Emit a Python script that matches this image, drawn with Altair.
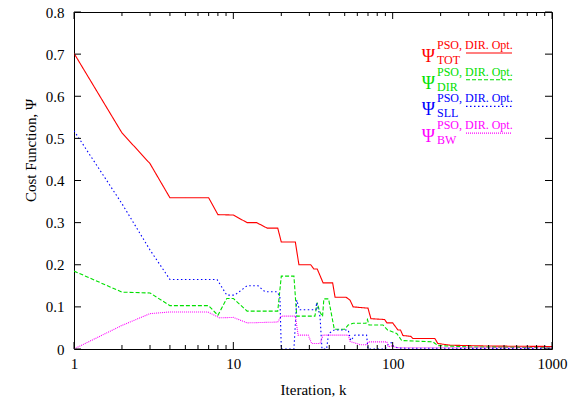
import altair as alt
import pandas as pd

# ---------------- data ----------------
tot_k = [1, 2, 3, 4, 7, 8, 10, 12.2, 14, 16.3, 19, 20, 24.5, 25.8, 30.6, 32, 33.6, 36.6, 42, 43.5,
         51, 54, 56.5, 70, 73, 89, 92, 100, 108, 112, 116, 130, 134, 184, 192, 230, 400, 1000]
tot_v = [0.702, 0.513, 0.44, 0.359, 0.359, 0.319, 0.318, 0.30, 0.30, 0.287, 0.287, 0.254, 0.254, 0.20,
         0.20, 0.19, 0.19, 0.157, 0.157, 0.123, 0.123, 0.116, 0.10, 0.097, 0.072, 0.07, 0.062, 0.062,
         0.045, 0.045, 0.032, 0.03, 0.025, 0.025, 0.013, 0.009, 0.007, 0.006]

dir_k = [1, 2, 3, 4, 7, 8, 9.1, 10, 12.2, 19, 20, 24, 25, 32.5, 33.6, 34.8, 36.3, 37, 39.6, 43,
         50, 52.6, 56.5, 68, 69.5, 71, 87, 93, 106, 114, 179, 192, 300, 1000]
dir_v = [0.185, 0.135, 0.133, 0.103, 0.103, 0.08, 0.12, 0.12, 0.09, 0.09, 0.173, 0.173, 0.078, 0.078,
         0.11, 0.089, 0.077, 0.119, 0.119, 0.047, 0.047, 0.057, 0.061, 0.061, 0.07, 0.057, 0.057,
         0.045, 0.037, 0.02, 0.017, 0.008, 0.005, 0.003]

sll_k = [1, 2, 3, 4, 7.9, 9.1, 10.2, 12.2, 14.3, 15.8, 18.8, 19.6, 20, 24, 25, 26, 33, 33.3, 35, 36,
         38.5, 39.6, 43, 52.6, 54.6, 58, 68.6, 70, 90, 93, 98, 102, 110, 1000]
sll_v = [0.518, 0.345, 0.235, 0.165, 0.165, 0.128, 0.128, 0.15, 0.15, 0.136, 0.136, 0.125, 0.0, 0.0,
         0.116, 0.093, 0.093, 0.11, 0.077, 0.0, 0.0, 0.037, 0.045, 0.045, 0.02, 0.033, 0.033, 0.0,
         0.0, 0.01, 0.015, 0.005, 0.002, 0.001]

bw_k = [1, 2, 3, 4, 6.9, 8.2, 10, 12.2, 19, 20, 24.5, 25.5, 29.5, 31, 35, 36.6, 52.6, 54, 62.7, 69,
        70, 92, 94, 100, 104, 110, 1000]
bw_v = [0.0, 0.056, 0.084, 0.088, 0.088, 0.074, 0.075, 0.062, 0.064, 0.078, 0.078, 0.033, 0.033,
        0.013, 0.013, 0.033, 0.033, 0.018, 0.01, 0.01, 0.017, 0.017, 0.005, 0.008, 0.004, 0.003, 0.003]

series_names = ["TOT", "DIR", "SLL", "BW"]
series_k = [tot_k, dir_k, sll_k, bw_k]
series_v = [tot_v, dir_v, sll_v, bw_v]

x_major = [1, 10, 100, 1000]
x_minor = [2, 3, 4, 5, 6, 7, 8, 9, 20, 30, 40, 50, 60, 70, 80, 90,
           200, 300, 400, 500, 600, 700, 800, 900]
y_major = [0, 0.1, 0.2, 0.3, 0.4, 0.5, 0.6, 0.7, 0.8]

sup_label = "PSO, DIR. Opt."
sym = "Ψ"

# ---------------- styles ----------------
colors = ["#ff0000", "#00e000", "#0000ff", "#ff00ff"]
dashes = [[1, 0], [4, 2], [1.5, 2.5], [1, 1]]
W, H = 478, 337
FONT = "Liberation Serif, Times New Roman, Times, DejaVu Serif, serif"

xscale = alt.Scale(type="log", domain=[1, 1000], nice=False)
yscale = alt.Scale(domain=[0, 0.8], nice=False)

xaxis = alt.Axis(values=x_major, format="d", labelPadding=7, title="Iteration, k",
                 titleY=40, titleBaseline="middle", labelFlush=False)
yaxis = alt.Axis(values=y_major, format=".1~f", labelPadding=10, title="Cost Function, Ψ",
                 titleX=-44, titleY=138, titleAngle=-90, titleBaseline="middle", titleAlign="center")

layers = []
for name, ks, vs, c, d in zip(series_names, series_k, series_v, colors, dashes):
    df = pd.DataFrame({"k": ks, "v": vs})
    layers.append(
        alt.Chart(df).mark_line(color=c, strokeDash=d, strokeWidth=1.1, clip=True).encode(
            x=alt.X("k:Q", scale=xscale, axis=xaxis),
            y=alt.Y("v:Q", scale=yscale, axis=yaxis),
        )
    )

# inward ticks (gnuplot style), mirrored on top and right
def xticks(vals, length):
    d = pd.DataFrame({"t": vals})
    bot = alt.Chart(d).mark_rule(color="black", strokeWidth=1).encode(
        x=alt.X("t:Q", scale=xscale, axis=xaxis), y=alt.value(H), y2=alt.value(H - length))
    top = alt.Chart(d).mark_rule(color="black", strokeWidth=1).encode(
        x=alt.X("t:Q", scale=xscale, axis=xaxis), y=alt.value(0), y2=alt.value(length))
    return [bot, top]

def yticks(vals, length):
    d = pd.DataFrame({"t": vals})
    left = alt.Chart(d).mark_rule(color="black", strokeWidth=1).encode(
        y=alt.Y("t:Q", scale=yscale, axis=yaxis), x=alt.value(0), x2=alt.value(length))
    right = alt.Chart(d).mark_rule(color="black", strokeWidth=1).encode(
        y=alt.Y("t:Q", scale=yscale, axis=yaxis), x=alt.value(W), x2=alt.value(W - length))
    return [left, right]

tick_layers = xticks(x_major, 7) + xticks(x_minor, 4) + yticks(y_major, 7)

# legend (key) built from text marks
legend_layers = []
one = pd.DataFrame({"a": [0]})
row_h = 26.7
for i, (name, c, d) in enumerate(zip(series_names, colors, dashes)):
    y0 = i * row_h
    legend_layers.append(
        alt.Chart(pd.DataFrame({"t": [sym]})).mark_text(
            font=FONT, fontSize=18, color=c, align="right", baseline="alphabetic").encode(
            text="t:N", x=alt.value(361), y=alt.value(50 + y0)))
    legend_layers.append(
        alt.Chart(pd.DataFrame({"t": [sup_label]})).mark_text(
            font=FONT, fontSize=12, color=c, align="left", baseline="alphabetic").encode(
            text="t:N", x=alt.value(363), y=alt.value(37 + y0)))
    legend_layers.append(
        alt.Chart(pd.DataFrame({"t": [name]})).mark_text(
            font=FONT, fontSize=12, color=c, align="left", baseline="alphabetic").encode(
            text="t:N", x=alt.value(363), y=alt.value(52 + y0)))
    legend_layers.append(
        alt.Chart(one).mark_rule(color=c, strokeDash=d, strokeWidth=1.1).encode(
            x=alt.value(392), x2=alt.value(438), y=alt.value(41 + y0)))

chart = alt.layer(*(layers + tick_layers + legend_layers)).properties(
    width=W, height=H,
    autosize=alt.AutoSizeParams(type="none"),
    padding={"left": 74, "top": 12, "right": 24, "bottom": 54},
    background="white",
).configure_view(
    stroke="black", strokeWidth=1
).configure_axis(
    domain=False, ticks=False, grid=False,
    labelFont=FONT, labelFontSize=15, labelColor="black",
    titleFont=FONT, titleFontSize=15, titleColor="black", titleFontWeight="normal",
)

chart.save("out.html", embed_options={"renderer": "svg", "actions": False})
